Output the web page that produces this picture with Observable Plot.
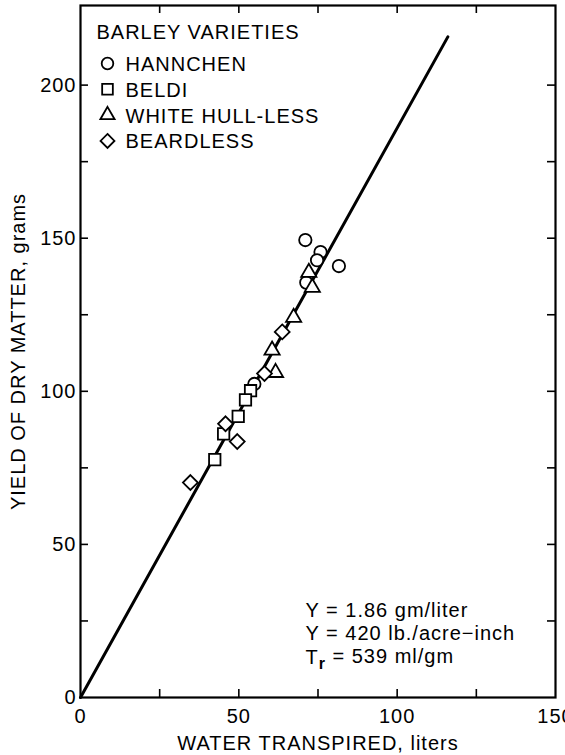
<!DOCTYPE html>
<html><head><meta charset="utf-8">
<script src="https://cdn.jsdelivr.net/npm/d3@7"></script>
<script src="https://cdn.jsdelivr.net/npm/@observablehq/plot@0.6"></script>
<style>body{margin:0;background:#fff}</style>
</head><body><div id="chart"></div>
<script>
const varieties = ["HANNCHEN", "BELDI", "WHITE HULL-LESS", "BEARDLESS"];
const hannchenX = [71.0, 75.8, 74.7, 81.6, 71.3, 54.9];
const hannchenY = [149.4, 145.5, 142.8, 140.9, 135.5, 102.4];
const beldiX = [53.7, 52.1, 49.8, 45.2, 42.4];
const beldiY = [100.2, 97.2, 91.8, 86.1, 77.7];
const whiteX = [72.1, 73.2, 67.3, 60.5, 61.6];
const whiteY = [138.8, 133.9, 124.1, 113.4, 106.1];
const beardlessX = [63.7, 58.1, 45.8, 49.5, 34.7];
const beardlessY = [119.4, 105.8, 89.4, 83.6, 70.2];
const slope = 1.86;
const lineX = [0, 116];
const xTickLabels = [0, 50, 100, 150];
const yTickLabels = [0, 50, 100, 150, 200];
const xTicks = [25, 50, 75, 100, 125];
const yTicks = [25, 50, 75, 100, 125, 150, 175, 200];
const legendTitle = "BARLEY VARIETIES";
const annotation = ["Y = 1.86 gm/liter", "Y = 420 lb./acre\u2212inch", "Tr = 539 ml/gm"];
const xTitle = "WATER TRANSPIRED, liters";
const yTitle = "YIELD OF DRY MATTER, grams";

const W = 565, H = 755, mL = 80, mR = 10, mT = 5, mB = 58;
const innerW = W - mL - mR, innerH = H - mT - mB;
const TICK = 8;
const FS = 20;
const FONT = "Liberation Sans, Arial, Helvetica, sans-serif";

const symCircle = {draw(ctx, size) {const r = Math.sqrt(size / Math.PI); ctx.moveTo(r, 0); ctx.arc(0, 0, r, 0, 2 * Math.PI);}};
const symSquare = {draw(ctx, size) {const r = Math.sqrt(size / Math.PI) * 0.92; ctx.rect(-r, -r, 2 * r, 2 * r);}};
const symTriangle = {draw(ctx, size) {const r = Math.sqrt(size / Math.PI); const s = 2.45 * r, h = s * Math.sqrt(3) / 2; ctx.moveTo(0, -2 * h / 3); ctx.lineTo(s / 2, h / 3); ctx.lineTo(-s / 2, h / 3); ctx.closePath();}};
const symDiamond = {draw(ctx, size) {const r = Math.sqrt(size / Math.PI) * 1.2; ctx.moveTo(0, -r); ctx.lineTo(r, 0); ctx.lineTo(0, r); ctx.lineTo(-r, 0); ctx.closePath();}};
const symbols = [symCircle, symSquare, symTriangle, symDiamond];

const series = [[hannchenX, hannchenY], [beldiX, beldiY], [whiteX, whiteY], [beardlessX, beardlessY]];
const points = series.flatMap(([xs, ys], k) => xs.map((x, i) => ({x, y: ys[i], variety: varieties[k]})));
const fitLine = lineX.map(x => ({x, y: slope * x}));

const legendMarks = varieties.flatMap((name, i) => [
  Plot.dot([name], {frameAnchor: "top-left", dx: 27, dy: 58 + i * 25.8, symbol: symbols[i], r: 5.8, stroke: "black", strokeWidth: 1.8, fill: "white"}),
  Plot.text([name], {frameAnchor: "top-left", dx: 45, dy: 59 + i * 25.8, text: d => d, textAnchor: "start", lineAnchor: "middle", fontSize: FS})
]);

const annMarks = annotation.map((t, i) => Plot.text([t], {frameAnchor: "bottom-left", dx: 225, dy: -87 + i * 23.5, text: d => d, textAnchor: "start", lineAnchor: "middle", fontSize: FS}));

const chart = Plot.plot({
  width: W, height: H,
  marginLeft: mL, marginRight: mR, marginTop: mT, marginBottom: mB,
  style: {fontFamily: FONT, background: "white", color: "black", letterSpacing: "1px", overflow: "visible"},
  x: {domain: [0, 150]},
  y: {domain: [0, 226]},
  symbol: {domain: varieties, range: symbols},
  marks: [
    Plot.line(fitLine, {x: "x", y: "y", stroke: "black", strokeWidth: 3}),
    Plot.dot(points, {x: "x", y: "y", symbol: "variety", r: 6.2, stroke: "black", strokeWidth: 1.8, fill: "white"}),
    Plot.frame({stroke: "black", strokeWidth: 2.2}),
    Plot.tickX(xTicks, {x: d => d, insetTop: innerH - TICK, stroke: "black", strokeWidth: 1.6}),
    Plot.tickX(xTicks, {x: d => d, insetBottom: innerH - TICK, stroke: "black", strokeWidth: 1.6}),
    Plot.tickY(yTicks, {y: d => d, insetRight: innerW - TICK, stroke: "black", strokeWidth: 1.6}),
    Plot.tickY(yTicks, {y: d => d, insetLeft: innerW - TICK, stroke: "black", strokeWidth: 1.6}),
    Plot.axisX(xTickLabels, {tickSize: 0, tickPadding: 11, fontSize: FS, label: null}),
    Plot.axisY(yTickLabels, {tickSize: 0, tickPadding: 4, fontSize: FS, label: null}),
    Plot.text([legendTitle], {frameAnchor: "top-left", dx: 16, dy: 27, text: d => d, textAnchor: "start", lineAnchor: "middle", fontSize: FS}),
    ...legendMarks,
    ...annMarks,
    Plot.text([xTitle], {frameAnchor: "bottom", dy: 46, text: d => d, textAnchor: "middle", lineAnchor: "middle", fontSize: FS}),
    Plot.text([yTitle], {frameAnchor: "left", dx: -62, rotate: -90, text: d => d, textAnchor: "middle", lineAnchor: "middle", fontSize: FS})
  ]
});

d3.select(chart).selectAll("text").each(function() {
  if (this.textContent === "Tr = 539 ml/gm") {
    const t = d3.select(this);
    t.text(null);
    t.append("tspan").text("T");
    t.append("tspan").attr("dy", "0.3em").attr("font-size", "0.8em").attr("font-weight", "bold").text("r");
    t.append("tspan").attr("dy", "-0.3em").text(" = 539 ml/gm");
  }
});

document.getElementById("chart").appendChild(chart);
</script>
</body></html>
